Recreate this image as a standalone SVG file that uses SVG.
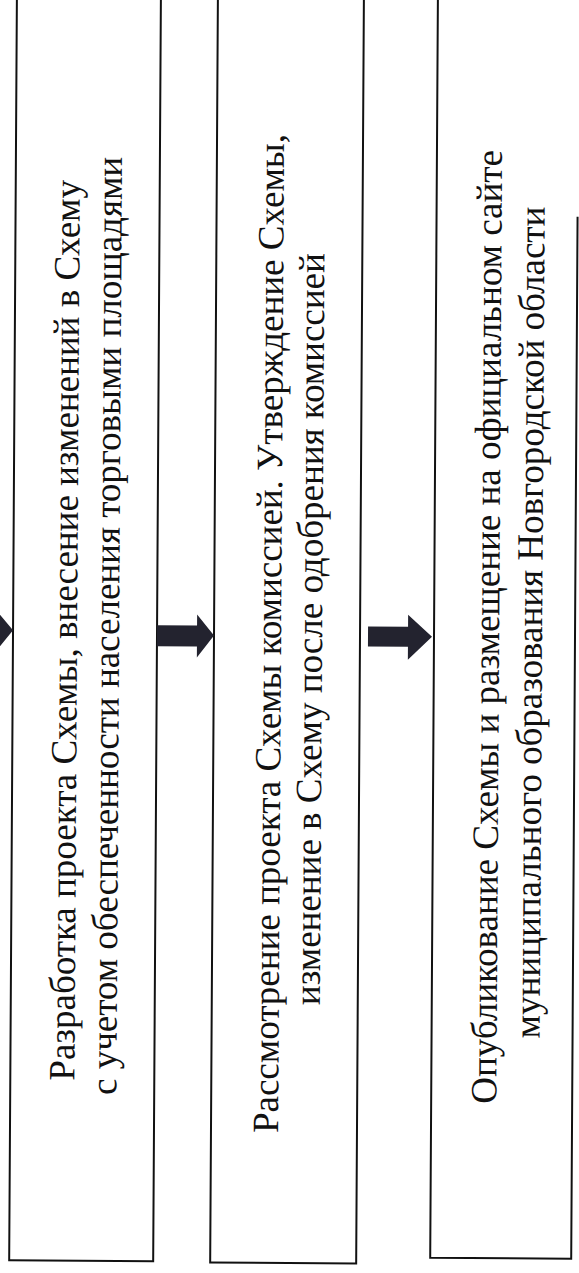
<svg xmlns="http://www.w3.org/2000/svg" width="579" height="1273" viewBox="0 0 579 1273">
  <style>
    .box { fill: #ffffff; stroke: #111111; stroke-width: 2; }
    .arrow { fill: #23232f; stroke: none; }
    .label { font-family: "Liberation Serif", "Times New Roman", "DejaVu Serif", serif; font-size: 37px; fill: #111111; text-anchor: middle; }
  </style>
  <rect x="0" y="0" width="579" height="1273" fill="#ffffff"/>
  <g transform="rotate(0.35 290 636)">
    <g id="node-1">
      <rect class="box" x="13" y="-10" width="144" height="1272"/>
      <text class="label" transform="translate(77 627) rotate(-90)">
        <tspan x="0" y="0">Разработка проекта Схемы,  внесение изменений в Схему</tspan>
        <tspan x="0" dy="42">с учетом обеспеченности населения торговыми площадями</tspan>
      </text>
    </g>
    <g id="node-2">
      <rect class="box" x="214" y="-10" width="146" height="1273"/>
      <text class="label" transform="translate(281 629) rotate(-90)">
        <tspan x="0" y="0">Рассмотрение проекта Схемы комиссией. Утверждение Схемы,</tspan>
        <tspan x="0" dy="41">изменение в Схему после одобрения комиссией</tspan>
      </text>
    </g>
    <g id="node-3">
      <path class="box" d="M575 215 L575 1257 L434 1257 L434 -10"/>
      <text class="label" transform="translate(499 621) rotate(-90)">
        <tspan x="0" y="0">Опубликование Схемы и размещение на официальном сайте</tspan>
        <tspan x="0" dy="43">муниципального образования Новгородской области</tspan>
      </text>
    </g>
    <g id="connectors">
      <polygon class="arrow" points="-50,626 -4,626 -4,612 13,632 -4,653 -4,641 -50,641"/>
      <polygon class="arrow" points="157,626 197,626 197,615 214,636 197,658 197,647 157,647"/>
      <polygon class="arrow" points="368,626 408,626 408,614 432,636 408,659 408,646 368,646"/>
    </g>
  </g>
</svg>
